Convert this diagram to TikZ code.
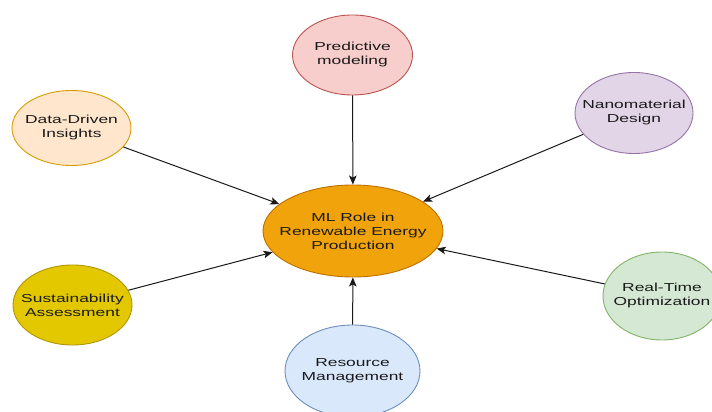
\documentclass[tikz,border=0pt]{standalone}
\usepackage{fontspec}
\setmainfont{Liberation Sans}
\newfontfamily\widesans[FakeStretch=1.5]{Liberation Sans}
\usetikzlibrary{shapes.geometric,arrows.meta}

\definecolor{orangeFill}{HTML}{F0A30A}
\definecolor{orangeLine}{HTML}{BD7000}
\definecolor{redFill}{HTML}{F8CECC}
\definecolor{redLine}{HTML}{B85450}
\definecolor{peachFill}{HTML}{FFE6CC}
\definecolor{peachLine}{HTML}{D79B00}
\definecolor{purpleFill}{HTML}{E1D5E7}
\definecolor{purpleLine}{HTML}{9673A6}
\definecolor{yellowFill}{HTML}{E3C800}
\definecolor{yellowLine}{HTML}{B09500}
\definecolor{blueFill}{HTML}{DAE8FC}
\definecolor{blueLine}{HTML}{6C8EBF}
\definecolor{greenFill}{HTML}{D5E8D4}
\definecolor{greenLine}{HTML}{82B366}
\definecolor{inkText}{HTML}{1A1A1A}

\tikzset{
  bubble/.style={ellipse, line width=0.9pt, inner sep=0pt},
  caption/.style={align=center, text=inkText,
    font=\widesans\fontsize{11.6}{14}\selectfont, inner sep=0pt},
  link/.style={line width=1pt, draw=black!90,
    -{Stealth[length=9pt,width=7.5pt,inset=2pt]}},
}

\begin{document}
\begin{tikzpicture}[x=1pt,y=1pt]
  \useasboundingbox (0,0) rectangle (712,412);
  \clip (0,0) rectangle (712,412);

  % hub
  \node[bubble, fill=orangeFill, draw=orangeLine,
        minimum width=180pt, minimum height=92pt] (hub) at (353,181) {};
  \node[caption] (hubtxt) at (hub) {ML Role in\\Renewable Energy\\Production};

  % satellites
  \node[bubble, fill=redFill, draw=redLine,
        minimum width=120pt, minimum height=80pt] (pred) at (352.5,357) {};
  \node[caption] (predtxt) at (pred) {Predictive\\modeling};

  \node[bubble, fill=peachFill, draw=peachLine,
        minimum width=119pt, minimum height=75pt] (data) at (71.5,284) {};
  \node[caption] (datatxt) at (data) {Data-Driven\\Insights};

  \node[bubble, fill=purpleFill, draw=purpleLine,
        minimum width=118pt, minimum height=81pt] (nano) at (634,299) {};
  \node[caption] (nanotxt) at (nano) {Nanomaterial\\Design};

  \node[bubble, fill=yellowFill, draw=yellowLine,
        minimum width=119pt, minimum height=80pt] (sust) at (72.5,107) {};
  \node[caption] (susttxt) at (sust) {Sustainability\\Assessment};

  \node[bubble, fill=blueFill, draw=blueLine,
        minimum width=135pt, minimum height=92pt] (res) at (352.5,41) {};
  \node[caption] (restxt) at (res) {Resource\\Management};

  \node[bubble, fill=greenFill, draw=greenLine,
        minimum width=118pt, minimum height=88pt] (rt) at (662,116) {};
  \node[caption] (rttxt) at (rt) {Real-Time\\Optimization};

  % connectors into the hub
  \draw[link] (pred) -- (hub);
  \draw[link] (data) -- (hub);
  \draw[link] (nano) -- (hub);
  \draw[link] (sust) -- (hub);
  \draw[link] (res) -- (hub);
  \draw[link] (rt) -- (hub);
\end{tikzpicture}
\end{document}
